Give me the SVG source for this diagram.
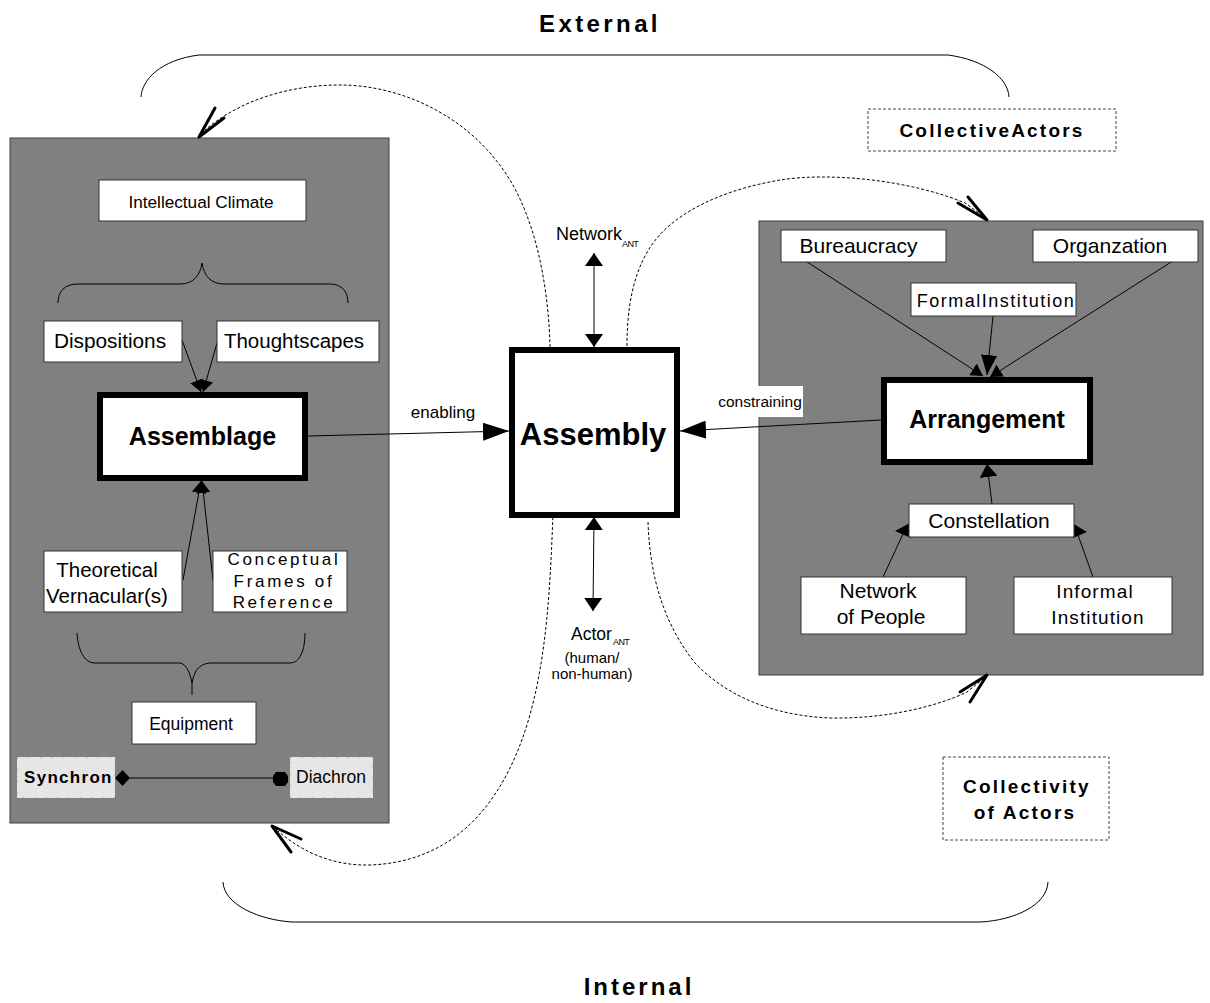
<svg xmlns="http://www.w3.org/2000/svg" width="1210" height="1003" viewBox="0 0 1210 1003">
<style>
text{font-family:"Liberation Sans",Arial,sans-serif;fill:#000}
.panel{fill:#808080;stroke:#404040;stroke-width:1}
.box{fill:#fff;stroke:#333;stroke-width:1}
.thick{fill:#fff;stroke:#000;stroke-width:6}
.light{fill:#e6e6e6;stroke:#8a8a8a;stroke-width:1;stroke-dasharray:1.5 10}
.dbox{fill:#fff;stroke:#444;stroke-width:1;stroke-dasharray:3 2}
.ln{fill:none;stroke:#000;stroke-width:1}
.dash{fill:none;stroke:#000;stroke-width:1;stroke-dasharray:3 2}
.vee{fill:none;stroke:#000;stroke-width:3;stroke-linecap:round;stroke-linejoin:round}
.c{text-anchor:middle}
.b{font-weight:bold}
</style>
<defs>
<marker id="aS" markerUnits="userSpaceOnUse" markerWidth="12" markerHeight="14" viewBox="0 0 12 14" refX="12" refY="7" orient="auto"><path d="M0,0 L12,7 L0,14 z"/></marker>
<marker id="aL" markerUnits="userSpaceOnUse" markerWidth="26" markerHeight="18" viewBox="0 0 26 18" refX="26" refY="9" orient="auto"><path d="M0,0 L26,9 L0,18 z"/></marker>
<marker id="aM" markerUnits="userSpaceOnUse" markerWidth="13" markerHeight="18" viewBox="0 0 13 18" refX="13" refY="9" orient="auto-start-reverse"><path d="M0,0 L13,9 L0,18 z"/></marker>
<marker id="aF" markerUnits="userSpaceOnUse" markerWidth="20" markerHeight="16" viewBox="0 0 20 16" refX="20" refY="8" orient="auto"><path d="M0,0 L20,8 L0,16 z"/></marker>
</defs>

<g id="titles">
<text class="c b" x="600" y="32" font-size="24" letter-spacing="3.4">External</text>
<text class="c b" x="639" y="995" font-size="24" letter-spacing="3">Internal</text>
</g>

<g id="braces">
<path class="ln" d="M141,97 C142,80 160,60 199,55 L948,55 C985,60 1008,78 1009,97"/>
<path class="ln" d="M223,882 C224,905 260,920 292,922 L981,922 C1015,920 1047,905 1048,882"/>
</g>

<g id="left-panel">
<rect class="panel" x="10" y="138" width="379" height="685"/>
</g>
<g id="right-panel">
<rect class="panel" x="759" y="221" width="444" height="454"/>
</g>

<g id="inner-braces">
<path class="ln" d="M58,303 C58,292 64,284 78,284 L180,284 C193,284 200,276 202,263 C204,276 211,284 224,284 L330,284 C342,284 348,292 348,303"/>
<path class="ln" d="M77,633 C78,650 84,663 95,663 L180,663 C186,664 190,672 192,683 C194,672 198,664 210,663 L290,663 C300,663 305,650 305,633 M192,683 L192,695"/>
</g>

<g id="connectors">
<line class="ln" x1="182" y1="340" x2="201" y2="392" marker-end="url(#aS)"/>
<line class="ln" x1="217" y1="343" x2="203" y2="392" marker-end="url(#aS)"/>
<line class="ln" x1="183" y1="580" x2="201" y2="481" marker-end="url(#aS)"/>
<line class="ln" x1="213" y1="580" x2="202" y2="481" marker-end="url(#aS)"/>
<line class="ln" x1="308" y1="436" x2="509" y2="431" marker-end="url(#aL)"/>
<line class="ln" x1="881" y1="420" x2="680" y2="431" marker-end="url(#aL)"/>
<line class="ln" x1="594" y1="253" x2="594" y2="347" marker-start="url(#aM)" marker-end="url(#aM)"/>
<line class="ln" x1="594" y1="517" x2="593" y2="611" marker-start="url(#aM)" marker-end="url(#aM)"/>
<line class="ln" x1="781" y1="245" x2="983" y2="376" marker-end="url(#aS)"/>
<line class="ln" x1="1198" y1="245" x2="990" y2="377" marker-end="url(#aS)"/>
<line class="ln" x1="993" y1="316" x2="987" y2="375" marker-end="url(#aF)"/>
<line class="ln" x1="992" y1="504" x2="987" y2="464" marker-end="url(#aM)"/>
<line class="ln" x1="883" y1="577" x2="903" y2="534"/>
<polygon points="895,531 910,523 911,538" fill="#000"/>
<line class="ln" x1="1093" y1="577" x2="1078" y2="535"/>
<polygon points="1087,532 1072,523 1073,538" fill="#000"/>
<line class="ln" x1="130" y1="778" x2="273" y2="778"/>
<polygon points="115,778 122.5,770 130,778 122.5,786" fill="#000"/>
<polygon points="276,772 285,772 288,776 288,782 285,786 276,786 273,782 273,776" fill="#000"/>
<path class="dash" d="M550,347 C549,300 540,230 510,180 C470,115 400,85 340,85 C290,85 240,100 205,130"/>
<polyline class="vee" points="215,108 199,137 224,118"/>
<path class="dash" d="M627,346 C627,290 640,250 670,225 C700,200 740,187 780,180 C830,172 910,180 965,203 L983,216"/>
<polyline class="vee" points="958,203 987,220 968,197"/>
<path class="dash" d="M553,512 C550,600 545,680 520,745 C495,810 450,862 370,865 C330,866 300,850 278,831"/>
<polyline class="vee" points="291,852 272,826 301,839"/>
<path class="dash" d="M648,522 C650,580 665,625 695,663 C730,700 780,716 830,718 C890,719 940,705 967,692 L983,679"/>
<polyline class="vee" points="960,692 987,675 970,702"/>
</g>

<g id="intellectual-climate">
<rect class="box" x="99" y="180" width="207" height="41"/>
<text class="c" x="201" y="208" font-size="17.2">Intellectual Climate</text>
</g>
<g id="dispositions">
<rect class="box" x="44" y="321" width="138" height="41"/>
<text class="c" x="110" y="348" font-size="20.8">Dispositions</text>
</g>
<g id="thoughtscapes">
<rect class="box" x="217" y="321" width="162" height="41"/>
<text class="c" x="294" y="348" font-size="20.5">Thoughtscapes</text>
</g>
<g id="assemblage">
<rect class="thick" x="100" y="395" width="205" height="83"/>
<text class="c b" x="202.5" y="445" font-size="25">Assemblage</text>
</g>
<g id="theoretical">
<rect class="box" x="44" y="551" width="138" height="61"/>
<text class="c" x="107" y="577" font-size="20.5">Theoretical</text>
<text class="c" x="107" y="603" font-size="20.5">Vernacular(s)</text>
</g>
<g id="conceptual">
<rect class="box" x="213" y="551" width="134" height="61"/>
<text class="c" x="284" y="565" font-size="17" letter-spacing="2.7">Conceptual</text>
<text class="c" x="284" y="587" font-size="17" letter-spacing="2.7">Frames of</text>
<text class="c" x="284" y="608" font-size="17" letter-spacing="2.7">Reference</text>
</g>
<g id="equipment">
<rect class="box" x="132" y="702" width="124" height="42"/>
<text class="c" x="191" y="730" font-size="17.5">Equipment</text>
</g>
<g id="synchron">
<rect class="light" x="17" y="757" width="98" height="41"/>
<text class="b" x="24" y="783" font-size="17" letter-spacing="1.3">Synchron</text>
</g>
<g id="diachron">
<rect class="light" x="290" y="757" width="83" height="41"/>
<text x="296" y="783" font-size="17.5">Diachron</text>
</g>

<g id="assembly">
<rect class="thick" x="512" y="350" width="165" height="165"/>
<text class="c b" x="593" y="445" font-size="31">Assembly</text>
</g>
<g id="network-ant">
<text x="556" y="240" font-size="18">Network</text>
<text x="622" y="247" font-size="9" letter-spacing="-0.6">ANT</text>
</g>
<g id="actor-ant">
<text x="571" y="640" font-size="17.5">Actor</text>
<text x="613" y="645" font-size="9" letter-spacing="-0.6">ANT</text>
<text class="c" x="592" y="663" font-size="15">(human/</text>
<text class="c" x="592" y="679" font-size="15">non-human)</text>
</g>
<g id="enabling">
<text class="c" x="443" y="418" font-size="17">enabling</text>
</g>
<g id="constraining">
<rect x="718" y="386" width="85" height="31" fill="#fff"/>
<text class="c" x="760" y="407" font-size="15.5">constraining</text>
</g>

<g id="collective-actors">
<rect class="dbox" x="868" y="109" width="248" height="42"/>
<text class="c b" x="992" y="137" font-size="19" letter-spacing="2.2">CollectiveActors</text>
</g>
<g id="collectivity">
<rect class="dbox" x="943" y="757" width="166" height="83"/>
<text class="c b" x="1027" y="793" font-size="19" letter-spacing="2.2">Collectivity</text>
<text class="c b" x="1025" y="819" font-size="19" letter-spacing="2.2">of Actors</text>
</g>

<g id="bureaucracy">
<rect class="box" x="781" y="230" width="165" height="32"/>
<text class="c" x="858.5" y="253" font-size="21">Bureaucracy</text>
</g>
<g id="organzation">
<rect class="box" x="1033" y="230" width="165" height="32"/>
<text class="c" x="1110" y="253" font-size="21">Organzation</text>
</g>
<g id="formal-institution">
<rect class="box" x="911" y="283" width="165" height="33"/>
<text class="c" x="996" y="307" font-size="18" letter-spacing="1.5">FormalInstitution</text>
</g>
<g id="arrangement">
<rect class="thick" x="884" y="380" width="206" height="82"/>
<text class="c b" x="987" y="428" font-size="25">Arrangement</text>
</g>
<g id="constellation">
<rect class="box" x="909" y="504" width="165" height="33"/>
<text class="c" x="989" y="528" font-size="21">Constellation</text>
</g>
<g id="network-of-people">
<rect class="box" x="801" y="577" width="165" height="57"/>
<text class="c" x="878" y="598" font-size="21">Network</text>
<text class="c" x="881" y="624" font-size="21">of People</text>
</g>
<g id="informal-institution">
<rect class="box" x="1014" y="577" width="158" height="57"/>
<text class="c" x="1095" y="598" font-size="19" letter-spacing="1.1">Informal</text>
<text class="c" x="1098" y="624" font-size="19" letter-spacing="1.1">Institution</text>
</g>
</svg>
